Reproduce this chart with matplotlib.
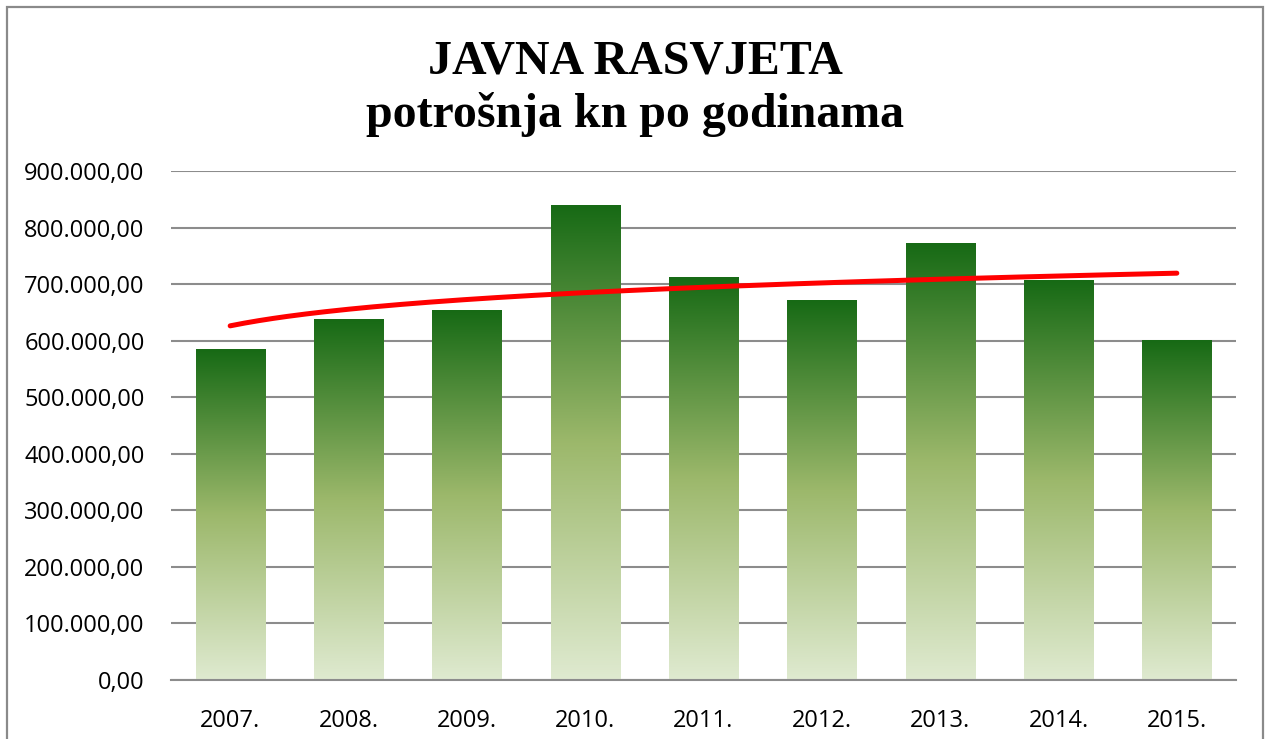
import numpy as np
import matplotlib
matplotlib.use('Agg')
import matplotlib.pyplot as plt
from matplotlib.colors import LinearSegmentedColormap
from matplotlib.patches import Rectangle
from matplotlib.ticker import FuncFormatter

years = ['2007.', '2008.', '2009.', '2010.', '2011.', '2012.', '2013.', '2014.', '2015.']
potrosnja = [585000, 638000, 654000, 839000, 712000, 671000, 772000, 707000, 600500]

title_1 = 'JAVNA RASVJETA'
title_2 = 'potrošnja kn po godinama'

fig = plt.figure(figsize=(12.66, 7.39), dpi=100)
fig.patch.set_facecolor('white')

# outer chart frame (bottom edge runs off the picture)
fig.patches.append(Rectangle((7 / 1266, -0.05), 1256 / 1266, 1 - 7 / 739 + 0.05,
                             transform=fig.transFigure, fill=False,
                             edgecolor='#8a8a8a', linewidth=1.6))

ax = fig.add_axes([171 / 1266, 1 - 680 / 739, (1236 - 171) / 1266, (680 - 171) / 739])
ax.set_facecolor('white')

x = np.arange(len(years))
bars = ax.bar(x, potrosnja, width=0.585, color='none', zorder=2)

# vertical gradient per bar: dark green top -> olive -> pale bottom
cmap = LinearSegmentedColormap.from_list(
    'grn', [(0.0, '#dfead0'), (0.5, '#9cb86b'), (1.0, '#176a15')])
grad = np.linspace(0, 1, 256).reshape(-1, 1)
for b in bars:
    x0, y0, w, h = b.get_x(), b.get_y(), b.get_width(), b.get_height()
    ax.imshow(grad, cmap=cmap, origin='lower', aspect='auto',
              extent=(x0, x0 + w, y0, y0 + h), zorder=2, interpolation='bicubic')

# logarithmic trendline
lx = np.log(x + 1)
b1, b0 = np.polyfit(lx, potrosnja, 1)
xs = np.linspace(0, len(years) - 1, 200)
ax.plot(xs, b0 + b1 * np.log(xs + 1), color='#ff0000', linewidth=3.6,
        solid_capstyle='round', zorder=3)

ax.set_xlim(-0.5, len(years) - 0.5)
ax.set_ylim(0, 900000)
ax.set_yticks(np.arange(0, 900001, 100000))
ax.yaxis.set_major_formatter(FuncFormatter(
    lambda v, _: f'{v:,.2f}'.replace(',', 'X').replace('.', ',').replace('X', '.')))
ax.set_xticks(x)
ax.set_xticklabels(years)

ax.yaxis.grid(True, color='#8c8c8c', linewidth=1.5)
ax.set_axisbelow(True)
for s in ['top', 'right', 'left']:
    ax.spines[s].set_visible(False)
ax.spines['bottom'].set_color('#8c8c8c')
ax.spines['bottom'].set_linewidth(1.5)
ax.tick_params(length=0, labelsize=17, labelcolor='#000000')
ax.tick_params(axis='y', pad=19)
ax.tick_params(axis='x', pad=21)
for lbl in ax.get_xticklabels() + ax.get_yticklabels():
    lbl.set_family('Open Sans')

fig.text(635 / 1266, 1 - 73 / 739, title_1, ha='center', va='baseline',
         fontsize=34.5, fontweight='bold', family='Liberation Serif')
fig.text(635 / 1266, 1 - 127 / 739, title_2, ha='center', va='baseline',
         fontsize=34.5, fontweight='bold', family='Liberation Serif')

fig.savefig('out.png', dpi=100, facecolor='white')
